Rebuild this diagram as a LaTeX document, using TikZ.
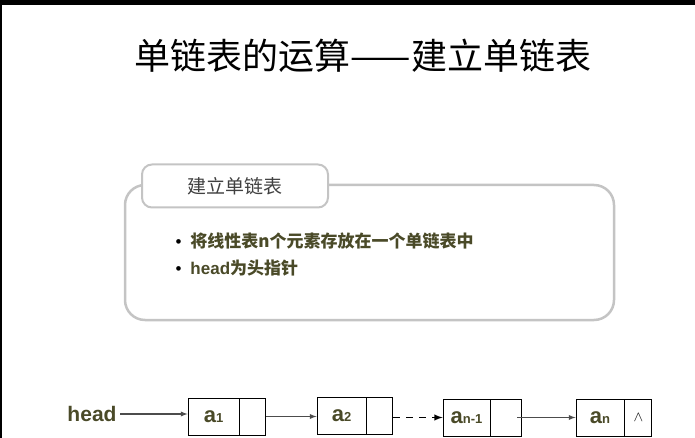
\documentclass[tikz,border=0pt]{standalone}
\usepackage{fontspec}
\newfontfamily\cjk{Noto Sans CJK SC}
\newfontfamily\cjkb{Noto Sans CJK SC Bold}
\setmainfont{Liberation Sans}
\definecolor{olive}{HTML}{4A4A28}
\definecolor{frame}{HTML}{C4C4C4}
\begin{document}
\begin{tikzpicture}[x=1pt,y=-1pt,
  cell/.style={draw,line width=0.9pt,minimum height=37pt,inner sep=0pt},
  arr/.style={-latex,line width=1.3pt,color=black!70},
  txt/.style={text=olive,font=\bfseries}]
\useasboundingbox (0,0) rectangle (695,438);
\fill[black] (0,0) rectangle (695,5);
\fill[black] (0,5) rectangle (2,438);
\node (title) at (363,56) {\cjk\fontsize{36}{36}\selectfont 单链表的运算——建立单链表};
\draw[frame,line width=2.5pt,rounded corners=20pt,fill=white] (125,185) rectangle (614,320);
\node[draw=frame,line width=2pt,rounded corners=10pt,fill=white,minimum width=186pt,minimum height=43pt] (tab) at (235,186) {\cjk\fontsize{19}{19}\selectfont\color{black!75} 建立单链表};
\node[anchor=west] (b1) at (172,241) {\fontsize{17}{17}\selectfont\textbullet\hspace{9pt}\color{olive}\bfseries\cjkb 将线性表\textbf{n}个元素存放在一个单链表中};
\node[anchor=west] (b2) at (172,268) {\fontsize{17}{17}\selectfont\textbullet\hspace{9pt}\color{olive}\bfseries head\cjkb 为头指针};
\node[txt,font=\bfseries\fontsize{21}{21}\selectfont] (head) at (92,414) {head};
\node[cell,minimum width=51pt] (d1) at (213.5,416.5) {\color{olive}\bfseries\fontsize{22}{22}\selectfont a\fontsize{13}{13}\selectfont 1};
\node[cell,minimum width=26pt,anchor=west] (p1) at (d1.east) {};
\node[cell,minimum width=49pt] (d2) at (341.5,415.5) {\color{olive}\bfseries\fontsize{22}{22}\selectfont a\fontsize{13}{13}\selectfont 2};
\node[cell,minimum width=26pt,anchor=west] (p2) at (d2.east) {};
\node[cell,minimum width=47pt] (d3) at (466.5,417.5) {\color{olive}\bfseries\fontsize{22}{22}\selectfont a\fontsize{13}{13}\selectfont n-1};
\node[cell,minimum width=31pt,anchor=west] (p3) at (d3.east) {};
\node[cell,minimum width=48pt] (d4) at (600,417.5) {\color{olive}\bfseries\fontsize{22}{22}\selectfont a\fontsize{13}{13}\selectfont n};
\node[cell,minimum width=27pt,anchor=west] (p4) at (d4.east) {\fontsize{15}{15}\selectfont$\wedge$};
\draw[arr] (head.east) -- (d1.west|-head.east);
\draw[arr] (p1.east) -- (d2.west|-p1.east);
\draw[arr,dash pattern=on 7pt off 6pt,line width=1.8pt,color=black] (p2.east|-d3.west) -- (d3.west);
\draw[arr] ([xshift=-5pt]p3.east) -- (d4.west);
\end{tikzpicture}
\end{document}
